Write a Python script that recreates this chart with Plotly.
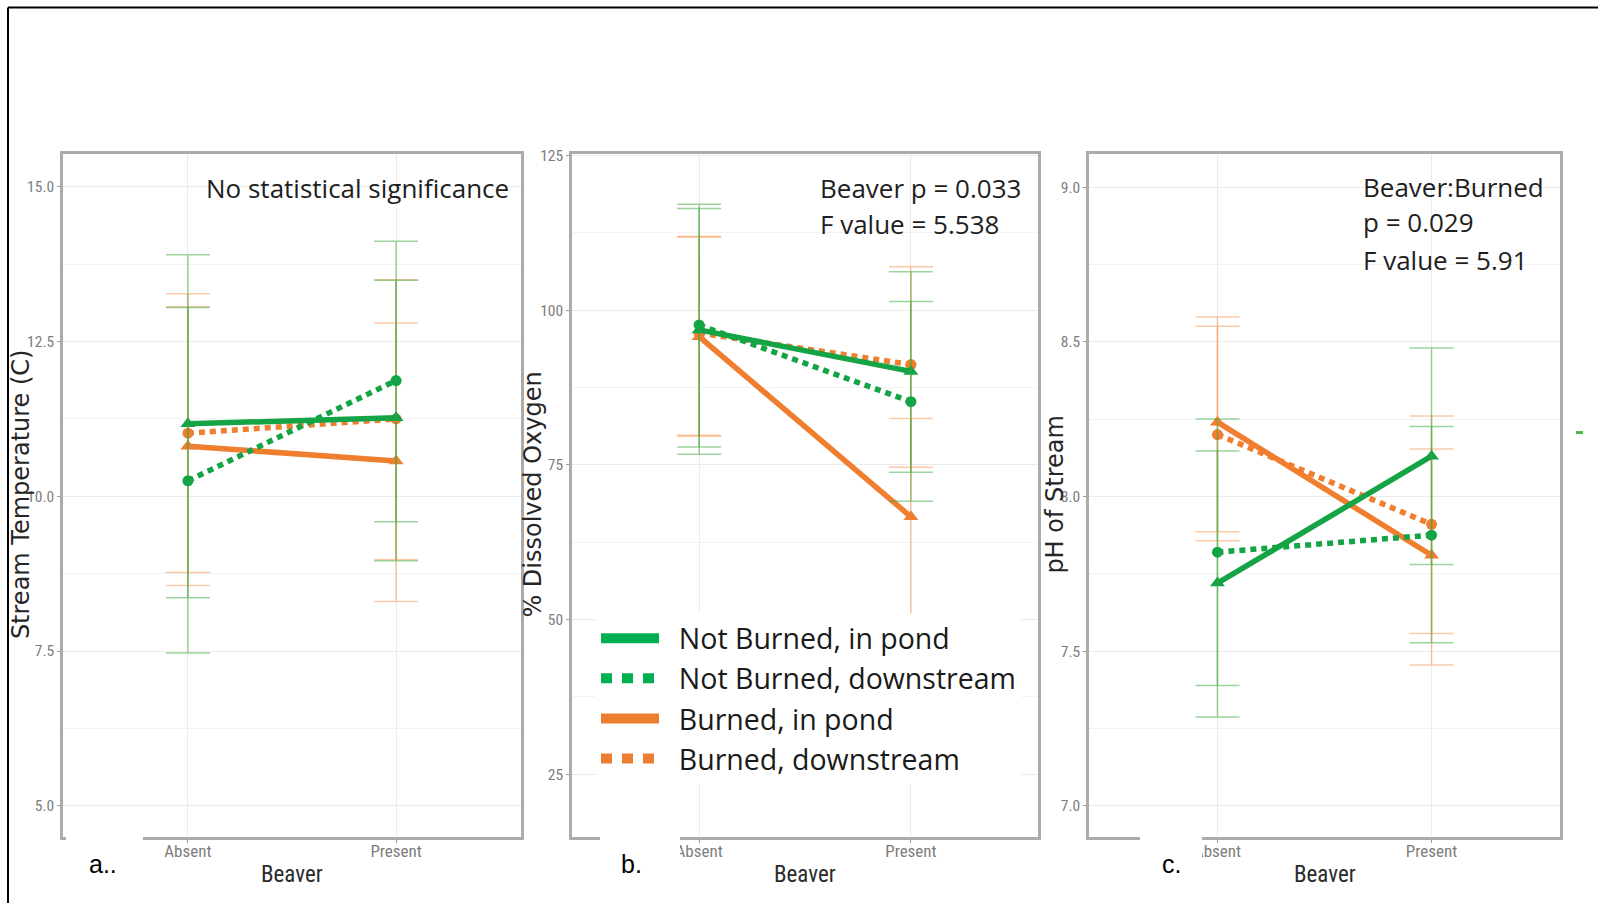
import plotly.graph_objects as go

W, H = 1598, 903

# ---------------- data ----------------
categories = ["Absent", "Present"]
series_names = ["Not Burned, in pond", "Not Burned, downstream",
                "Burned, in pond", "Burned, downstream"]

# a. Stream temperature (C): per series [Absent, Present]
temp_mean = [[11.17, 11.27], [10.25, 11.87], [10.81, 10.57], [11.02, 11.25]]
temp_upper = [[13.90, 13.49], [13.05, 14.12], [13.06, 12.80], [13.27, 13.50]]
temp_lower = [[8.36, 8.96], [7.47, 9.59], [8.56, 8.30], [8.77, 8.98]]

# b. % dissolved oxygen
do_mean = [[96.8, 90.1], [97.6, 85.2], [95.7, 66.6], [96.3, 91.2]]
do_upper = [[116.4, 106.2], [117.1, 101.4], [111.8, 82.5], [111.9, 107.0]]
do_lower = [[76.7, 73.8], [77.9, 69.1], [79.6, 50.5], [79.8, 74.6]]

# c. pH of stream
ph_mean = [[7.72, 8.13], [7.82, 7.875], [8.24, 7.81], [8.20, 7.91]]
ph_upper = [[8.147, 8.48], [8.25, 8.226], [8.58, 8.153], [8.55, 8.26]]
ph_lower = [[7.287, 7.78], [7.389, 7.527], [7.886, 7.455], [7.857, 7.557]]

temp_ticks = [5.0, 7.5, 10.0, 12.5, 15.0]
do_ticks = [25, 50, 75, 100, 125]
ph_ticks = [7.0, 7.5, 8.0, 8.5, 9.0]

temp_title = "Stream Temperature (C)"
do_title = "% Dissolved Oxygen"
ph_title = "pH of Stream"
x_title = "Beaver"
panel_labels = ["a..", "b.", "c."]
note_a = ["No statistical significance"]
note_b = ["Beaver p = 0.033", "F value = 5.538"]
note_c = ["Beaver:Burned", "p = 0.029", "F value = 5.91"]

# ---------------- styles ----------------
GREEN = "#14a345"
ORANGE = "#ef7e2e"
GREEN_EB = "rgba(60,170,60,0.5)"
ORANGE_EB = "rgba(250,150,80,0.5)"
colors = [GREEN, GREEN, ORANGE, ORANGE]
eb_colors = [GREEN_EB, GREEN_EB, ORANGE_EB, ORANGE_EB]
dashes = ["solid", "6px,5px", "solid", "6px,5px"]
symbols = ["triangle-up", "circle", "triangle-up", "circle"]
msizes = [13, 11, 13, 11]
draw_order = [2, 3, 0, 1]

NARROW = "Liberation Sans Narrow, Arial Narrow, Roboto Condensed, Liberation Sans, sans-serif"
NOTE_FONT = "Open Sans, Noto Sans, sans-serif"


def px(x):
    return x / W


def py(y):
    # slight vertical correction for the rendered page
    return 1 - ((y - 6.6) / 0.9918) / H


panels = [
    dict(mean=temp_mean, up=temp_upper, lo=temp_lower, ticks=temp_ticks, fmt="{:.1f}",
         rng=[4.5, 15.53], xdom=(63, 521), title=temp_title, tx=20.5),
    dict(mean=do_mean, up=do_upper, lo=do_lower, ticks=do_ticks, fmt="{:d}",
         rng=[14.9, 125.23], xdom=(572, 1038), title=do_title, tx=533),
    dict(mean=ph_mean, up=ph_upper, lo=ph_lower, ticks=ph_ticks, fmt="{:.1f}",
         rng=[6.90, 9.107], xdom=(1089, 1560), title=ph_title, tx=1055),
]

Y_TOP, Y_BOT = 153.5, 836

fig = go.Figure()
layout_axes = {}
annotations = []
shapes = []

for pi, p in enumerate(panels):
    sfx = "" if pi == 0 else str(pi + 1)
    xref, yref = "x" + sfx, "y" + sfx
    for si in draw_order:
        m = p["mean"][si]
        up = [u - v for u, v in zip(p["up"][si], m)]
        lo = [v - l for l, v in zip(p["lo"][si], m)]
        fig.add_trace(go.Scatter(
            x=categories, y=m, mode="lines+markers", name=series_names[si],
            showlegend=False, xaxis=xref, yaxis=yref,
            line=dict(color=colors[si], width=5.5, dash=dashes[si]),
            marker=dict(symbol=symbols[si], size=msizes[si], color=colors[si]),
            error_y=dict(type="data", symmetric=False, array=up, arrayminus=lo,
                         color=eb_colors[si], thickness=1.5, width=22),
        ))
    ticks = p["ticks"]
    minor_vals = [(a + b) / 2 for a, b in zip(ticks[:-1], ticks[1:])]
    layout_axes["xaxis" + sfx] = dict(
        domain=[px(p["xdom"][0]), px(p["xdom"][1])], anchor=yref,
        type="category", categoryorder="array", categoryarray=categories,
        range=[-0.6, 1.6], showgrid=True, gridcolor="#ebebeb", gridwidth=1,
        showline=True, linecolor="#ababab", linewidth=2.5, mirror=True,
        ticks="outside", ticklen=3, tickcolor="#999999", ticklabelstandoff=-6,
        tickfont=dict(family=NARROW, size=17, color="#7d7d7d"),
        zeroline=False, fixedrange=True,
    )
    layout_axes["yaxis" + sfx] = dict(
        domain=[py(Y_BOT), py(Y_TOP)], anchor=xref, range=p["rng"],
        tickmode="array", tickvals=ticks, ticktext=[p["fmt"].format(t) for t in ticks],
        showgrid=True, gridcolor="#ebebeb", gridwidth=1,
        minor=dict(tickmode="array", tickvals=minor_vals, showgrid=True,
                   gridcolor="#f3f3f3", gridwidth=1, ticks=""),
        showline=True, linecolor="#ababab", linewidth=2.5, mirror=True,
        ticks="outside", ticklen=3, tickcolor="#999999",
        tickfont=dict(family=NARROW, size=15.5, color="#7d7d7d"),
        zeroline=False, fixedrange=True,
    )
    # axis titles
    annotations.append(dict(
        text=p["title"], xref="paper", yref="paper", x=px(p["tx"]), y=py(494),
        xanchor="center", yanchor="middle", textangle=-90, showarrow=False,
        font=dict(family="DejaVu Sans, sans-serif", size=24, color="#262626"),
    ))
    annotations.append(dict(
        text=x_title, xref="paper", yref="paper",
        x=px((p["xdom"][0] + p["xdom"][1]) / 2), y=py(874),
        xanchor="center", yanchor="middle", showarrow=False,
        font=dict(family=NARROW, size=23, color="#2b2b2b"),
    ))

# legend-only traces
for si in range(4):
    fig.add_trace(go.Scatter(
        x=[None], y=[None], mode="lines", name="\u00a0\u00a0" + series_names[si],
        xaxis="x2", yaxis="y2", showlegend=True, hoverinfo="skip",
        line=dict(color=["#00b050", "#00b050", "#ed7d31", "#ed7d31"][si], width=10,
                  dash="solid" if si % 2 == 0 else "11px,10px"),
    ))

# statistical notes
for text, yy in zip(note_a, [187.5]):
    annotations.append(dict(text=text, xref="paper", yref="paper", x=px(204), y=py(yy),
                            xanchor="left", yanchor="middle", showarrow=False,
                            font=dict(family=NOTE_FONT, size=26, color="#1e1e1e")))
for text, yy in zip(note_b, [187.5, 224]):
    annotations.append(dict(text=text, xref="paper", yref="paper", x=px(818), y=py(yy),
                            xanchor="left", yanchor="middle", showarrow=False,
                            font=dict(family=NOTE_FONT, size=26, color="#1e1e1e")))
for text, yy in zip(note_c, [186.5, 222, 259]):
    annotations.append(dict(text=text, xref="paper", yref="paper", x=px(1361), y=py(yy),
                            xanchor="left", yanchor="middle", showarrow=False,
                            font=dict(family=NOTE_FONT, size=26, color="#1e1e1e")))

# white label boxes covering the axis line, and panel labels
for (x0, x1), lx, lab in zip([(66, 143), (600, 680), (1140, 1202)], [87, 619, 1160], panel_labels):
    shapes.append(dict(type="rect", xref="paper", yref="paper", x0=px(x0), x1=px(x1),
                       y0=py(892), y1=py(832), fillcolor="white", line=dict(width=0),
                       layer="above"))
    annotations.append(dict(text=lab, xref="paper", yref="paper", x=px(lx), y=py(863),
                            xanchor="left", yanchor="middle", showarrow=False,
                            font=dict(family="Liberation Sans, Arial, sans-serif", size=25,
                                      color="#000000")))

# outer black border (left and top)
shapes.append(dict(type="line", xref="paper", yref="paper", x0=px(8), x1=px(8),
                   y0=1 - 0.6 / H, y1=-0.02, line=dict(color="black", width=2), layer="below"))
shapes.append(dict(type="line", xref="paper", yref="paper", x0=px(8), x1=px(1605),
                   y0=1 - 0.6 / H, y1=1 - 0.6 / H, line=dict(color="black", width=2),
                   layer="above"))
# small stray green mark at the right edge
shapes.append(dict(type="line", xref="paper", yref="paper", x0=px(1576), x1=px(1583),
                   y0=py(432), y1=py(432), line=dict(color="#4cb84c", width=3), layer="above"))

fig.update_layout(
    width=W, height=H, margin=dict(l=0, r=0, t=0, b=0),
    paper_bgcolor="white", plot_bgcolor="white",
    showlegend=True,
    legend=dict(x=px(596), y=py(612.6), xanchor="left", yanchor="top",
                bgcolor="white", borderwidth=0, itemwidth=58, tracegroupgap=0,
                font=dict(family=NOTE_FONT, size=28.5, color="#1a1a1a")),
    annotations=annotations, shapes=shapes,
    **layout_axes,
)

fig.write_html("out.html")
